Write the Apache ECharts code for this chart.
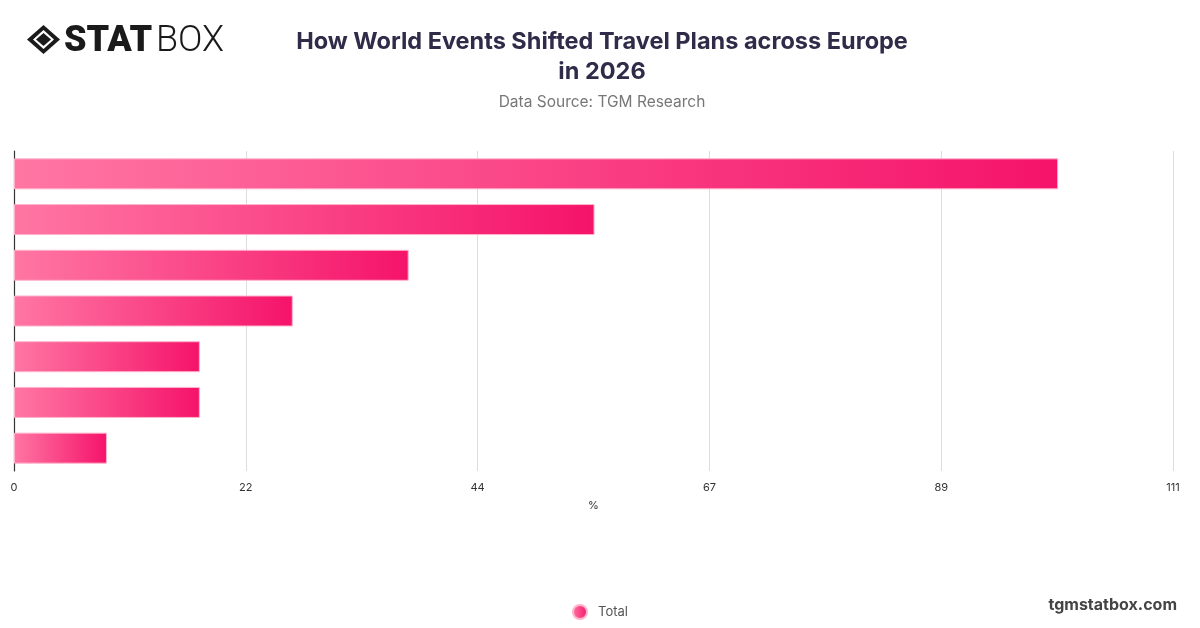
<!DOCTYPE html>
<html>
<head>
<meta charset="utf-8">
<script src="https://cdn.jsdelivr.net/npm/echarts@6/dist/echarts.min.js"></script>
<style>html,body{margin:0;padding:0;background:#fff;}#c{width:1200px;height:628px;}</style>
</head>
<body>
<div id="c"></div>
<script>
const categories = ["Category 1", "Category 2", "Category 3", "Category 4", "Category 5", "Category 6", "Category 7"];
const totalValues = [100, 55.6, 37.8, 26.7, 17.8, 17.8, 8.9];
const seriesName = "Total";
const axisMax = 111;
const axisInterval = 22.2;

const chart = echarts.init(document.getElementById('c'));
const grad = () => new echarts.graphic.LinearGradient(0, 0, 1, 0, [
  {offset: 0, color: '#ff76a3'},
  {offset: 1, color: '#f5136a'}
]);
chart.setOption({
  backgroundColor: '#fff',
  animation: false,
  title: {
    text: 'How World Events Shifted Travel Plans across Europe\nin 2026',
    subtext: 'Data Source: TGM Research',
    left: 597, textAlign: 'center', top: 22,
    itemGap: 7,
    textStyle: {fontFamily: 'Inter', fontSize: 23.5, fontWeight: 'bold', color: '#2f2b48', lineHeight: 30},
    subtextStyle: {fontFamily: 'Inter', fontSize: 15.5, color: '#777'}
  },
  legend: {
    data: [seriesName], left: 567, top: 599, icon: 'circle', itemWidth: 14, itemHeight: 14, itemGap: 8,
    textStyle: {fontFamily: 'Inter', fontSize: 13, color: '#555', padding: [0, 0, 0, 6]}
  },
  grid: {left: 14, right: 27, top: 151, bottom: 157, containLabel: false},
  xAxis: {
    type: 'value', min: 0, max: axisMax, interval: axisInterval,
    name: '%', nameLocation: 'middle', nameGap: 29,
    nameTextStyle: {fontFamily: 'Inter', fontSize: 11, color: '#333'},
    axisLine: {show: false}, axisTick: {show: false},
    axisLabel: {fontFamily: 'Inter', fontSize: 11, color: '#333', margin: 11, formatter: v => Math.round(v)},
    splitLine: {lineStyle: {color: '#dddddd', width: 1}}
  },
  yAxis: {
    type: 'category', data: categories, inverse: true,
    axisLine: {show: true, lineStyle: {color: '#333', width: 1.2}},
    axisTick: {show: false}, axisLabel: {show: false}
  },
  series: [{
    name: seriesName, type: 'bar', data: totalValues, barWidth: 31,
    itemStyle: {color: grad(), borderColor: '#ffb3cb', borderWidth: 1}
  }],
  graphic: [
    {type: 'polygon', shape: {points: [[27,39.5],[43.5,25],[60,39.5],[43.5,54]]}, style: {fill: '#1a1a1a'}},
    {type: 'polygon', shape: {points: [[33,39.5],[43.5,30],[54,39.5],[43.5,49]]}, style: {fill: '#fff'}},
    {type: 'polygon', shape: {points: [[36,39.5],[43.5,33],[51,39.5],[43.5,46]]}, style: {fill: '#1a1a1a'}},
    {type: 'text', left: 64, top: 24, style: {text: 'STAT', font: '900 36px Roboto', fill: '#1a1a1a'}},
    {type: 'text', left: 156, top: 24, style: {text: 'BOX', font: '300 36px Roboto', fill: '#1a1a1a'}},
    {type: 'text', right: 23, top: 597, style: {text: 'tgmstatbox.com', font: 'bold 16px Inter', fill: '#444'}}
  ]
});
</script>
</body>
</html>
